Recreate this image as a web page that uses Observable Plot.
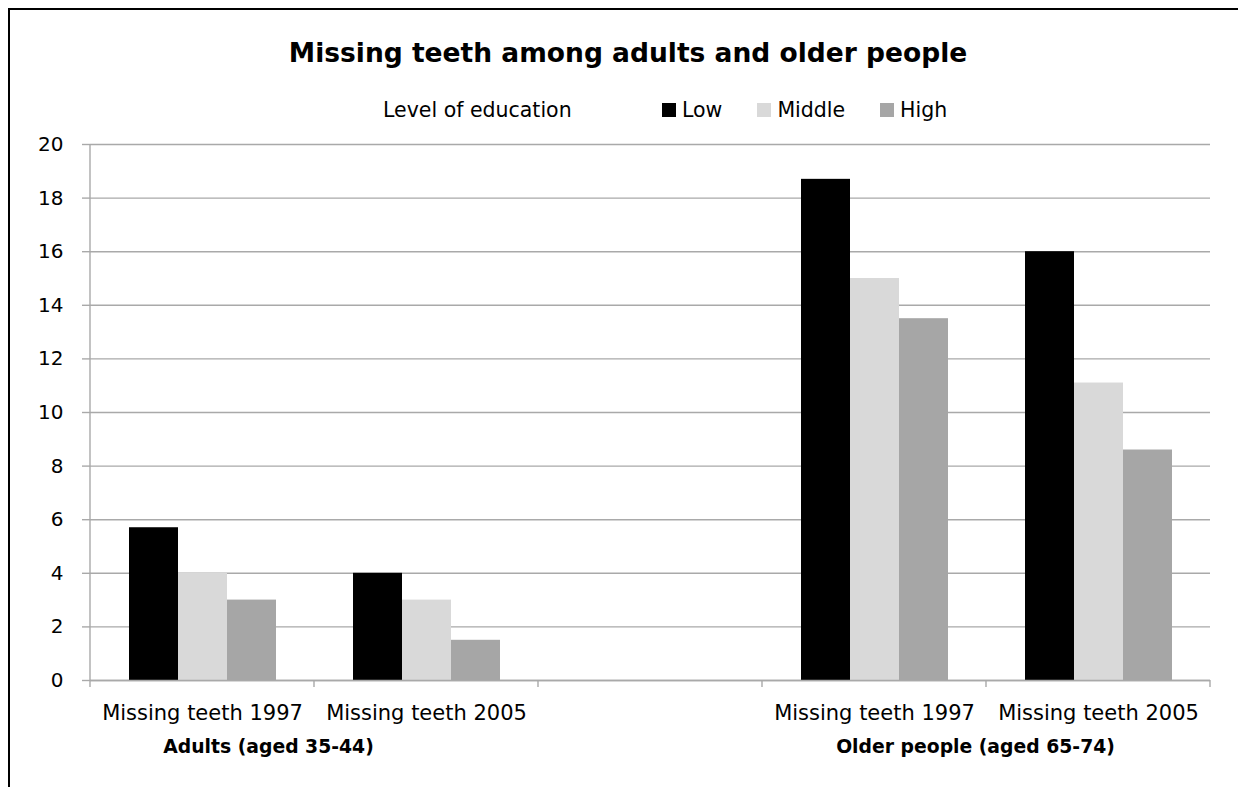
<!DOCTYPE html>
<html>
<head>
<meta charset="utf-8">
<script src="https://cdn.jsdelivr.net/npm/d3@7"></script>
<script src="https://cdn.jsdelivr.net/npm/@observablehq/plot@0.6"></script>
<style>
  body { margin: 0; background: #fff; font-family: "DejaVu Sans", sans-serif; color: #000; }
  #chart { position: relative; width: 1238px; height: 787px; overflow: hidden; }
  #box { position: absolute; left: 8px; top: 8px; width: 1260px; height: 820px;
         border-left: 2px solid #000; border-top: 2px solid #000; }
  #title { position: absolute; left: 628px; top: 38px; transform: translateX(-50%);
           white-space: nowrap; font-weight: bold; font-size: 26.5px; line-height: 30px; }
  #legend-label { position: absolute; left: 383px; top: 98px; font-size: 20.5px; line-height: 24px; white-space: nowrap; }
  #legend { position: absolute; left: 662px; top: 98px; display: flex; gap: 35px; font-size: 20.5px; line-height: 24px; }
  .item { display: flex; align-items: center; gap: 6px; white-space: nowrap; }
  .swatch { width: 14px; height: 14px; display: inline-block; }
  #plot { position: absolute; left: 0; top: 0; }
</style>
</head>
<body>
<div id="chart">
  <div id="box"></div>
  <div id="title"></div>
  <div id="legend-label"></div>
  <div id="legend"></div>
  <div id="plot"></div>
</div>
<script>
// Chart text
const titleText = "Missing teeth among adults and older people";
const legendTitle = "Level of education";

// Education levels and their fills
const levels = ["Low", "Middle", "High"];
const levelColors = ["#000000", "#d9d9d9", "#a6a6a6"];

// Category slots along the x axis (the third slot is an empty spacer)
const slots = ["adults-1997", "adults-2005", "spacer", "older-1997", "older-2005"];
const slotLabels = ["Missing teeth 1997", "Missing teeth 2005", "", "Missing teeth 1997", "Missing teeth 2005"];

// Average number of missing teeth per slot, by level of education
const lowValues    = [5.7, 4.0, null, 18.7, 16.0];
const middleValues = [4.0, 3.0, null, 15.0, 11.1];
const highValues   = [3.0, 1.5, null, 13.5, 8.6];

// Age-group labels under the category labels
const groupLabels = ["Adults (aged 35-44)", "Older people (aged 65-74)"];
const groupSlots = ["adults-1997", "older-1997"];

// Y axis ticks
const yTicks = [0, 2, 4, 6, 8, 10, 12, 14, 16, 18, 20];

const seriesValues = [lowValues, middleValues, highValues];
const rows = [];
slots.forEach((slot, i) => {
  levels.forEach((level, j) => {
    const v = seriesValues[j][i];
    if (v != null) rows.push({slot, level, value: v});
  });
});
const slotRows = slots.map((slot, i) => ({slot, label: slotLabels[i]}));

document.getElementById("title").textContent = titleText;
document.getElementById("legend-label").textContent = legendTitle;
const legend = d3.select("#legend");
levels.forEach((level, i) => {
  const item = legend.append("div").attr("class", "item");
  item.append("span").attr("class", "swatch").style("background", levelColors[i]);
  item.append("span").text(level);
});

const gridColor = "#a9a9a9";

const plot = Plot.plot({
  width: 1238,
  height: 787,
  marginTop: 144,
  marginBottom: 107,
  marginLeft: 90,
  marginRight: 28,
  style: {fontFamily: "DejaVu Sans, sans-serif", fontSize: "20px", color: "#000", background: "transparent", overflow: "visible"},
  fx: {domain: slots, padding: 0, axis: null, label: null},
  x: {domain: levels, paddingInner: 0, paddingOuter: 0.74, axis: null, label: null},
  y: {domain: [0, 20], axis: null, label: null},
  color: {domain: levels, range: levelColors},
  marks: [
    Plot.gridY(yTicks, {stroke: gridColor, strokeOpacity: 1, strokeWidth: 1.4}),
    Plot.barY(rows, {fx: "slot", x: "level", y: "value", fill: "level"}),
    Plot.ruleY([0], {stroke: gridColor, strokeWidth: 1.4}),
    Plot.axisY(yTicks, {tickSize: 8, tickPadding: 19, fontSize: 20, stroke: gridColor, strokeWidth: 1.4, label: null}),
    // category labels, one per slot (the spacer slot has an empty label)
    Plot.text(slotRows, {fx: "slot", text: "label", frameAnchor: "bottom", lineAnchor: "top", dy: 25, fontSize: 21}),
    Plot.text([groupLabels[0]], {fx: [groupSlots[0]], text: d => d, frameAnchor: "bottom-right", textAnchor: "middle", dy: 72, dx: -46, fontSize: 18.8, fontWeight: "bold"}),
    Plot.text([groupLabels[1]], {fx: [groupSlots[1]], text: d => d, frameAnchor: "bottom-right", textAnchor: "middle", dy: 72, dx: -11, fontSize: 18.8, fontWeight: "bold"})
  ]
});

document.getElementById("plot").appendChild(plot);

// Vertical axis line and the category boundary ticks below the baseline
const fxScale = plot.scale("fx");
const yScale = plot.scale("y");
const [r0, r1] = fxScale.range;
const step = (r1 - r0) / slots.length;
const y0 = yScale.range[0];
const yTop = yScale.range[1];
const svg = d3.select(plot);
const deco = svg.append("g").attr("stroke", gridColor).attr("stroke-width", 1.4);
deco.append("line").attr("x1", r0).attr("x2", r0).attr("y1", yTop).attr("y2", y0 + 7);
d3.range(1, slots.length + 1).forEach(i => {
  const x = r0 + i * step;
  deco.append("line").attr("x1", x).attr("x2", x).attr("y1", y0).attr("y2", y0 + 7);
});
</script>
</body>
</html>
